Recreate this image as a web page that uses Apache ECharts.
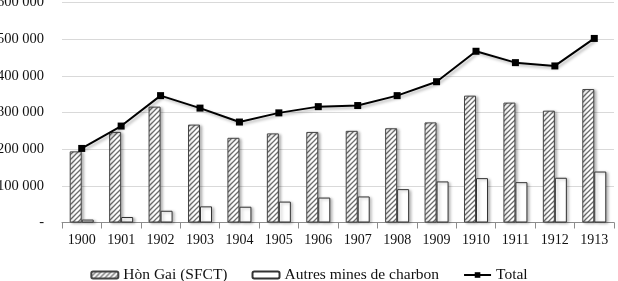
<!DOCTYPE html>
<html>
<head>
<meta charset="utf-8">
<script src="https://cdn.jsdelivr.net/npm/echarts@6/dist/echarts.min.js"></script>
<style>
    html, body { margin: 0; padding: 0; background: #fff; }
    #chart { width: 618px; height: 281px; }
</style>
</head>
<body>
<div id="chart"></div>
<script>
const years = ['1900', '1901', '1902', '1903', '1904', '1905', '1906', '1907', '1908', '1909', '1910', '1911', '1912', '1913'];
const honGai = [194000, 247000, 316000, 267000, 231000, 243000, 247000, 250000, 257000, 273000, 346000, 327000, 305000, 364000];
const autres = [8000, 15000, 32000, 44000, 43000, 57000, 68000, 71000, 91000, 112000, 121000, 110000, 122000, 139000];
const total = [202000, 263000, 346000, 312000, 274000, 299000, 316000, 319000, 346000, 384000, 467000, 436000, 427000, 502000];

// motif hachuré pour Hòn Gai
function hatch() {
    const c = document.createElement('canvas');
    c.width = 5;
    c.height = 5;
    const ctx = c.getContext('2d');
    ctx.fillStyle = '#fff';
    ctx.fillRect(0, 0, 5, 5);
    ctx.strokeStyle = '#6e6e6e';
    ctx.lineWidth = 1.3;
    ctx.beginPath();
    ctx.moveTo(-1, 6); ctx.lineTo(6, -1);
    ctx.moveTo(-1, 1); ctx.lineTo(1, -1);
    ctx.moveTo(4, 6); ctx.lineTo(6, 4);
    ctx.stroke();
    return c;
}

const font = 'Liberation Serif, Times New Roman, serif';
const chart = echarts.init(document.getElementById('chart'));

const option = {
    animation: false,
    textStyle: { fontFamily: font },
    grid: { left: 62, right: 4, top: 2.5, bottom: 58.5, containLabel: false, outerBoundsMode: 'none' },
    legend: {
        top: 262,
        left: 'center',
        itemWidth: 27,
        itemHeight: 7,
        itemGap: 24,
        textStyle: { fontFamily: font, fontSize: 15.5, color: '#111' },
        data: ['Hòn Gai (SFCT)', 'Autres mines de charbon', 'Total']
    },
    xAxis: {
        type: 'category',
        data: years,
        axisLine: { lineStyle: { color: '#8c8c8c' } },
        axisTick: { show: true, length: 6, lineStyle: { color: '#8c8c8c' } },
        axisLabel: { fontFamily: font, fontSize: 14, color: '#111', margin: 11 }
    },
    yAxis: {
        type: 'value',
        min: 0,
        max: 600000,
        interval: 100000,
        axisLine: { show: false },
        axisTick: { show: false },
        splitLine: { lineStyle: { color: '#d9d9d9' } },
        axisLabel: {
            fontFamily: font,
            fontSize: 14.5,
            color: '#111',
            margin: 18,
            formatter: v => v === 0 ? '-' : (v / 1000) + ' 000'
        }
    },
    series: [
        {
            name: 'Hòn Gai (SFCT)',
            type: 'bar',
            data: honGai,
            barWidth: 12,
            barGap: '0%',
            itemStyle: {
                color: { image: hatch(), repeat: 'repeat' },
                borderColor: '#444',
                borderWidth: 1,
                shadowColor: 'rgba(0,0,0,0.3)',
                shadowBlur: 3,
                shadowOffsetX: 2,
                shadowOffsetY: 1
            }
        },
        {
            name: 'Autres mines de charbon',
            type: 'bar',
            data: autres,
            barWidth: 12,
            itemStyle: {
                color: '#fff',
                borderColor: '#333',
                borderWidth: 1,
                shadowColor: 'rgba(0,0,0,0.3)',
                shadowBlur: 3,
                shadowOffsetX: 2,
                shadowOffsetY: 1
            }
        },
        {
            name: 'Total',
            type: 'line',
            data: total,
            symbol: 'rect',
            symbolSize: 7,
            lineStyle: {
                color: '#000',
                width: 2,
                shadowColor: 'rgba(0,0,0,0.3)',
                shadowBlur: 3,
                shadowOffsetX: 2,
                shadowOffsetY: 2
            },
            itemStyle: { color: '#000' }
        }
    ]
};

chart.setOption(option);
</script>
</body>
</html>
